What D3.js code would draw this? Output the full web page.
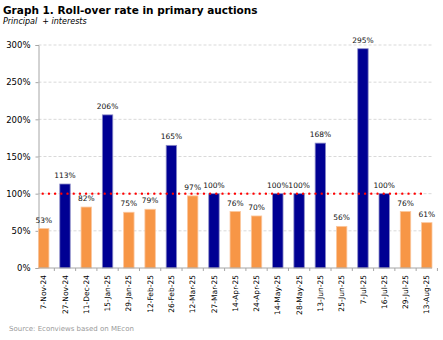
<!DOCTYPE html>
<html>
<head>
<meta charset="utf-8">
<script src="https://cdn.jsdelivr.net/npm/d3@7"></script>
<style>
  body { margin: 0; background: #fff; }
  text { font-family: "DejaVu Sans", Verdana, sans-serif; }
</style>
</head>
<body>
<div id="chart"></div>
<script>
// Daten
const dates = ["7-Nov-24", "27-Nov-24", "11-Dec-24", "15-Jan-25", "29-Jan-25", "12-Feb-25",
  "26-Feb-25", "12-Mar-25", "27-Mar-25", "14-Apr-25", "24-Apr-25", "14-May-25",
  "28-May-25", "13-Jun-25", "25-Jun-25", "7-Jul-25", "16-Jul-25", "29-Jul-25", "13-Aug-25"];
const rollover = [53, 113, 82, 206, 75, 79, 165, 97, 100, 76, 70, 100, 100, 168, 56, 295, 100, 76, 61];
const yTicks = [0, 50, 100, 150, 200, 250, 300];
const reference = 100;

const width = 443;
const height = 340;
const plot = { left: 38.5, right: 432, top: 45, bottom: 268 };

const svg = d3.select("#chart")
  .append("svg")
  .attr("width", width)
  .attr("height", height);

svg.append("rect").attr("width", width).attr("height", height).attr("fill", "#fff");

// Titel
svg.append("text")
  .attr("x", 3).attr("y", 14)
  .attr("font-size", "10.5px").attr("font-weight", "bold")
  .attr("fill", "#000")
  .text("Graph 1. Roll-over rate in primary auctions");

svg.append("text")
  .attr("x", 3).attr("y", 24)
  .attr("font-size", "8px").attr("font-style", "italic")
  .attr("fill", "#000")
  .attr("xml:space", "preserve")
  .text("Principal  + interests");

// Skalen
const x = d3.scaleBand()
  .domain(dates)
  .range([plot.left, plot.right])
  .paddingInner(0.51)
  .paddingOuter(0);

const y = d3.scaleLinear()
  .domain([0, 300])
  .range([plot.bottom, plot.top]);

// Gitterlinien
svg.append("g")
  .selectAll("line")
  .data(yTicks.filter(d => d > 0))
  .enter()
  .append("line")
  .attr("x1", plot.left).attr("x2", plot.right)
  .attr("y1", d => y(d)).attr("y2", d => y(d))
  .attr("stroke", "#d9d9d9")
  .attr("stroke-width", 1)
  .attr("stroke-dasharray", "3,2");

// Y-Achse
const yAxis = svg.append("g")
  .attr("transform", `translate(${plot.left},0)`)
  .call(d3.axisLeft(y).tickValues(yTicks).tickFormat(d => d + "%").tickSize(3).tickPadding(5));
yAxis.select(".domain").attr("stroke", "#a6a6a6");
yAxis.selectAll(".tick line").attr("stroke", "#a6a6a6");
yAxis.selectAll(".tick text")
  .attr("font-family", "DejaVu Sans, sans-serif")
  .attr("font-size", "8.5px")
  .attr("fill", "#000");

// Balken
svg.append("g")
  .selectAll("rect")
  .data(rollover)
  .enter()
  .append("rect")
  .attr("x", (d, i) => x(dates[i]))
  .attr("y", d => y(d))
  .attr("width", x.bandwidth())
  .attr("height", d => y(0) - y(d))
  .attr("fill", d => d >= reference ? "#000093" : "#f79646")
  .attr("stroke", d => d >= reference ? "#8c8cc8" : "#fbc79f")
  .attr("stroke-width", 0.8);

// X-Achse
const step = x.step();
svg.append("line")
  .attr("x1", plot.left).attr("x2", plot.right)
  .attr("y1", plot.bottom).attr("y2", plot.bottom)
  .attr("stroke", "#a6a6a6");

svg.append("g")
  .selectAll("line")
  .data(dates)
  .enter()
  .append("line")
  .attr("x1", d => x(d) + x.bandwidth() + (step - x.bandwidth()) / 2)
  .attr("x2", d => x(d) + x.bandwidth() + (step - x.bandwidth()) / 2)
  .attr("y1", plot.bottom).attr("y2", plot.bottom + 3)
  .attr("stroke", "#a6a6a6");

svg.append("g")
  .selectAll("text")
  .data(dates)
  .enter()
  .append("text")
  .attr("transform", d => `translate(${x(d) + x.bandwidth() / 2 + 2.6},${plot.bottom + 7}) rotate(-90)`)
  .attr("text-anchor", "end")
  .attr("font-size", "7.5px")
  .attr("fill", "#000")
  .text(d => d);

// Referenzlinie 100%
svg.append("line")
  .attr("x1", x(dates[0]) + x.bandwidth() / 2 - 1)
  .attr("x2", x(dates[dates.length - 1]))
  .attr("y1", y(reference)).attr("y2", y(reference))
  .attr("stroke", "#ff0000")
  .attr("stroke-width", 2.4)
  .attr("stroke-linecap", "round")
  .attr("stroke-dasharray", "0,6.2");

// Wertebeschriftung
svg.append("g")
  .selectAll("text")
  .data(rollover)
  .enter()
  .append("text")
  .attr("x", (d, i) => x(dates[i]) + x.bandwidth() / 2)
  .attr("y", d => y(d) - 6)
  .attr("text-anchor", "middle")
  .attr("font-size", "7.5px")
  .attr("fill", "#111")
  .text(d => d + "%");

// Quelle
svg.append("text")
  .attr("x", 9).attr("y", 331)
  .attr("font-size", "7px")
  .attr("fill", "#999")
  .text("Source: Econviews based on MEcon");
</script>
</body>
</html>
